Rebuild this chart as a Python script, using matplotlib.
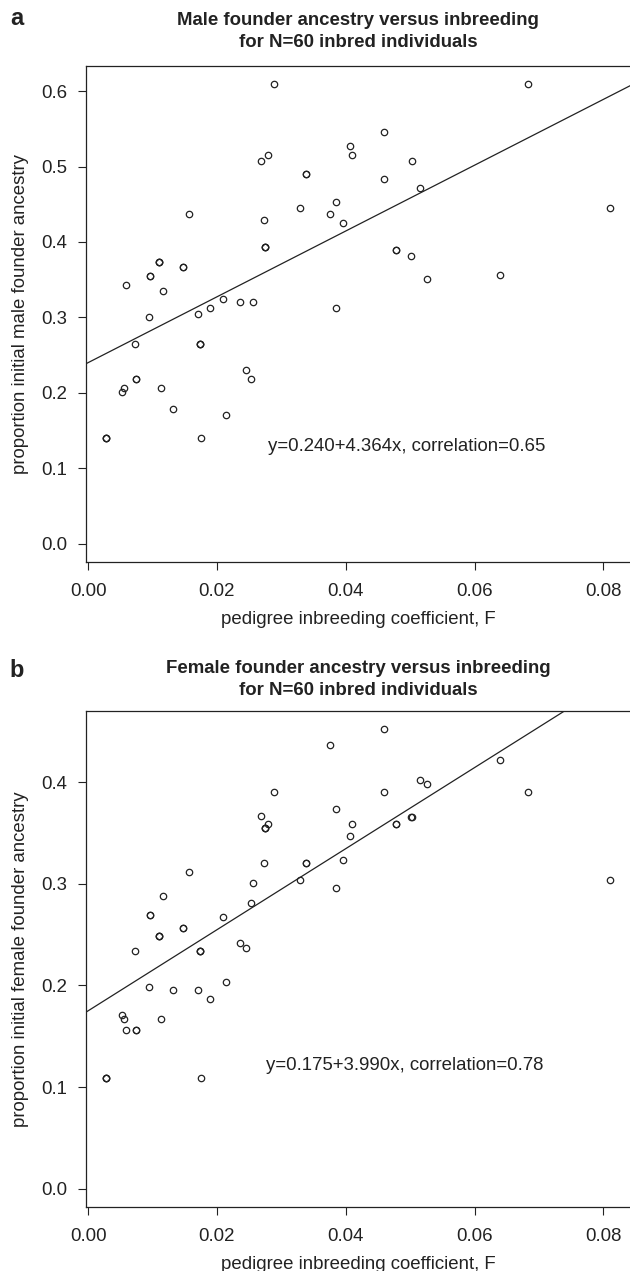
"""
plot.py - founder ancestry versus pedigree inbreeding (two stacked panels).
"""

import numpy as np
import matplotlib
matplotlib.use("Agg")
import matplotlib.pyplot as plt

# pedigree inbreeding coefficient F, one entry per individual (N=60)
inbreeding_f = [
    0.0028, 0.0028, 0.0028,
    0.0052, 0.0055, 0.0059, 0.0073,
    0.0075, 0.0075,
    0.0095,
    0.0096, 0.0096,
    0.0110, 0.0110, 0.0110,
    0.0113, 0.0117, 0.0132,
    0.0148, 0.0148,
    0.0156, 0.0171,
    0.0174, 0.0174, 0.0174,
    0.0175, 0.0190, 0.0209, 0.0214, 0.0236, 0.0245, 0.0253, 0.0256, 0.0268, 0.0273,
    0.0274, 0.0274, 0.0274,
    0.0280, 0.0288, 0.0329,
    0.0338, 0.0338,
    0.0375, 0.0385, 0.0385, 0.0396, 0.0407, 0.0410, 0.0459, 0.0459,
    0.0478, 0.0478,
    0.0502, 0.0503, 0.0516, 0.0526, 0.0639, 0.0683, 0.0810,
]

male_ancestry = [
    0.140, 0.140, 0.140,
    0.201, 0.206, 0.343, 0.265,
    0.218, 0.218,
    0.300,
    0.355, 0.355,
    0.374, 0.374, 0.374,
    0.206, 0.335, 0.178,
    0.367, 0.367,
    0.437, 0.304,
    0.265, 0.265, 0.265,
    0.140, 0.312, 0.324, 0.171, 0.320, 0.230, 0.218, 0.321, 0.507, 0.429,
    0.394, 0.394, 0.394,
    0.515, 0.609, 0.445,
    0.490, 0.490,
    0.437, 0.453, 0.312, 0.425, 0.527, 0.515, 0.546, 0.484,
    0.390, 0.390,
    0.382, 0.507, 0.472, 0.351, 0.356, 0.609, 0.445,
]

female_ancestry = [
    0.109, 0.109, 0.109,
    0.171, 0.167, 0.156, 0.234,
    0.156, 0.156,
    0.198,
    0.269, 0.269,
    0.249, 0.249, 0.249,
    0.167, 0.288, 0.195,
    0.257, 0.257,
    0.312, 0.195,
    0.234, 0.234, 0.234,
    0.109, 0.187, 0.267, 0.203, 0.242, 0.237, 0.281, 0.301, 0.367, 0.320,
    0.355, 0.355, 0.355,
    0.359, 0.390, 0.304,
    0.320, 0.320,
    0.437, 0.374, 0.296, 0.323, 0.347, 0.359, 0.452, 0.390,
    0.359, 0.359,
    0.366, 0.366, 0.402, 0.398, 0.422, 0.390, 0.304,
]

# fitted regression lines as printed on the chart
fit_intercepts = [0.240, 0.175]
fit_slopes = [4.364, 3.990]
correlations = [0.65, 0.78]

panel_letters = ["a", "b"]
panel_titles = [
    ["Male founder ancestry versus inbreeding", "for N=60 inbred individuals"],
    ["Female founder ancestry versus inbreeding", "for N=60 inbred individuals"],
]
y_labels = [
    "proportion initial male founder ancestry",
    "proportion initial female founder ancestry",
]
x_label = "pedigree inbreeding coefficient, F"
x_ticks = [0.00, 0.02, 0.04, 0.06, 0.08]
y_tick_sets = [
    [0.0, 0.1, 0.2, 0.3, 0.4, 0.5, 0.6],
    [0.0, 0.1, 0.2, 0.3, 0.4],
]
note_pos = [(0.0280, 0.1285), (0.0276, 0.1213)]

plt.rcParams["font.family"] = ["Liberation Sans", "DejaVu Sans"]
INK = "#222222"
FS = 13.4

W, H = 630, 1271
fig = plt.figure(figsize=(W / 100, H / 100), dpi=100)

# pixel boxes (top, bottom) of the two plot frames, and the title baselines
frames = [(66, 562), (711, 1207)]
title_baselines = [(25.0, 47.3), (673.3, 695.0)]
letter_baselines = [25.0, 676.7]
frame_left = 86


def draw_panel(i, y_values):
    top, bottom = frames[i]
    ax = fig.add_axes([frame_left / W, 1 - bottom / H,
                       (W - frame_left) / W, (bottom - top) / H])
    x = np.asarray(inbreeding_f)
    y = np.asarray(y_values)

    ax.plot(x, y, linestyle="none", marker="o", markersize=4.6,
            markerfacecolor="none", markeredgecolor=INK, markeredgewidth=0.9)
    ax.axline((0.0, fit_intercepts[i]), slope=fit_slopes[i], color=INK, lw=0.9)

    # R-style 4% padding
    xpad = 0.04 * (x.max() - x.min())
    ax.set_xlim(x.min() - xpad, x.max() + xpad)
    ax.set_ylim(-0.04 * y.max(), 1.04 * y.max())

    ax.set_xticks(x_ticks)
    ax.set_xticklabels([f"{t:.2f}" for t in x_ticks])
    ax.set_yticks(y_tick_sets[i])
    ax.set_yticklabels([f"{t:.1f}" for t in y_tick_sets[i]])
    ax.tick_params(axis="both", direction="out", length=5.8, width=0.8,
                   colors=INK, labelsize=FS)
    ax.tick_params(axis="x", pad=9.0)
    ax.tick_params(axis="y", pad=7.5)
    for side in ("left", "bottom", "top"):
        ax.spines[side].set_linewidth(0.9)
        ax.spines[side].set_color(INK)
    ax.spines["right"].set_visible(False)

    ax.set_xlabel(x_label, fontsize=FS, color=INK)
    ax.xaxis.set_label_coords(0.5, -(611 - 562) / (bottom - top))
    ax.set_ylabel(y_labels[i], fontsize=FS, color=INK)
    ax.yaxis.set_label_coords(-(frame_left - 29) / (W - frame_left), 0.5)

    eq = (f"y={fit_intercepts[i]:.3f}+{fit_slopes[i]:.3f}x, "
          f"correlation={correlations[i]:.2f}")
    ax.text(note_pos[i][0], note_pos[i][1], eq, fontsize=FS, color=INK,
            ha="left", va="center")

    for line, yb in zip(panel_titles[i], title_baselines[i]):
        fig.text(358 / W, 1 - yb / H, line, fontsize=FS, fontweight="bold",
                 color=INK, ha="center", va="baseline")
    fig.text(16.5 / W, 1 - letter_baselines[i] / H, panel_letters[i],
             fontsize=17, fontweight="bold", color=INK,
             ha="center", va="baseline")
    return ax


draw_panel(0, male_ancestry)
draw_panel(1, female_ancestry)

fig.savefig("out.png", dpi=100)
plt.close("all")
